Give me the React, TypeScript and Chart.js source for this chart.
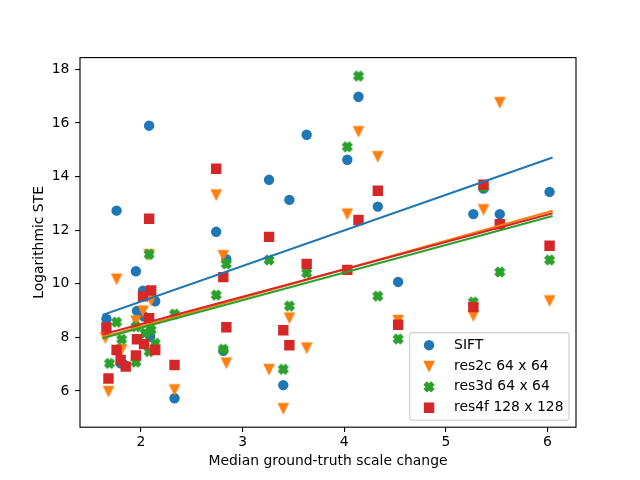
import React, { useEffect, useRef } from 'react';
import { Chart, registerables } from 'chart.js';

Chart.register(...registerables);

// ---------- data ----------
const SERIES_LABELS = ['SIFT', 'res2c 64 x 64', 'res3d 64 x 64', 'res4f 128 x 128'];
const SERIES_COLORS = ['#1f77b4', '#ff7f0e', '#2ca02c', '#d62728'];
const SERIES_MARKERS = ['circle', 'triangleDown', 'xFilled', 'square'];

const SIFT_X = [1.66, 1.76, 1.8, 1.84, 1.95, 1.96, 2.02, 2.03, 2.08, 2.09, 2.14, 2.33, 2.74, 2.81, 2.84, 3.26, 3.4, 3.46, 3.63, 4.03, 4.14, 4.33, 4.53, 5.27, 5.37, 5.53, 6.02];
const SIFT_Y = [8.69, 12.73, 7.03, 6.97, 10.47, 8.99, 9.74, 8.78, 15.9, 8.03, 9.35, 5.73, 11.94, 7.5, 10.92, 13.88, 6.22, 13.13, 15.56, 14.63, 16.98, 12.88, 10.07, 12.6, 13.55, 12.6, 13.43];

const RES2C_X = [1.65, 1.68, 1.76, 1.81, 1.95, 2.02, 2.08, 2.1, 2.33, 2.74, 2.81, 2.84, 3.26, 3.4, 3.46, 3.63, 4.03, 4.14, 4.33, 4.53, 5.27, 5.37, 5.53, 6.02];
const RES2C_Y = [8.0, 6.0, 10.19, 7.56, 8.63, 9.0, 11.1, 9.4, 6.06, 13.33, 11.07, 7.06, 6.82, 5.36, 8.74, 7.62, 12.62, 15.69, 14.76, 8.65, 8.82, 12.78, 16.78, 9.38];

const RES3D_X = [1.69, 1.76, 1.81, 1.95, 1.95, 2.04, 2.08, 2.08, 2.1, 2.14, 2.33, 2.74, 2.81, 2.84, 3.26, 3.4, 3.46, 3.63, 4.03, 4.14, 4.33, 4.53, 5.27, 5.37, 5.53, 6.02];
const RES3D_Y = [7.03, 8.57, 7.93, 7.08, 8.4, 8.16, 11.1, 7.47, 8.28, 7.78, 8.87, 9.58, 7.56, 10.74, 10.89, 6.81, 9.17, 10.4, 15.11, 17.75, 9.54, 7.94, 9.32, 13.6, 10.44, 10.89];

const RES4F_X = [1.66, 1.68, 1.76, 1.8, 1.85, 1.95, 1.96, 2.02, 2.03, 2.08, 2.08, 2.1, 2.14, 2.33, 2.74, 2.81, 2.84, 3.26, 3.4, 3.46, 3.63, 4.03, 4.14, 4.33, 4.53, 5.27, 5.37, 5.53, 6.02];
const RES4F_Y = [8.37, 6.47, 7.53, 7.16, 6.91, 7.33, 7.93, 9.53, 7.75, 12.43, 8.72, 9.75, 7.53, 6.97, 14.29, 10.25, 8.38, 11.75, 8.27, 7.71, 10.74, 10.52, 12.38, 13.47, 8.47, 9.13, 13.7, 12.22, 11.42];

// fitted trend lines: values at TREND_X ends
const TREND_X = [1.63, 6.04];
const SIFT_TREND = [8.85, 14.7];
const RES2C_TREND = [8.02, 12.72];
const RES3D_TREND = [7.98, 12.52];
const RES4F_TREND = [8.12, 12.62];

const X_TICKS = [2, 3, 4, 5, 6];
const Y_TICKS = [6, 8, 10, 12, 14, 16, 18];
const X_RANGE = [1.4, 6.28];
const Y_RANGE = [4.65, 18.44];

const X_TITLE = 'Median ground-truth scale change';
const Y_TITLE = 'Logarithmic STE';

// ---------- styling ----------
const FONT_SIZE = 13.9;
const MARKER_SIZE = 8.33;
const MARKER_EDGE = 2.08;
const LINE_WIDTH = 2.08;

function drawMarker(ctx: CanvasRenderingContext2D, kind: string, x: number, y: number, color: string) {
  const s = MARKER_SIZE;
  ctx.save();
  ctx.fillStyle = color;
  ctx.strokeStyle = color;
  ctx.lineWidth = MARKER_EDGE;
  ctx.lineJoin = 'miter';
  ctx.beginPath();
  if (kind === 'circle') {
    ctx.arc(x, y, s / 2, 0, Math.PI * 2);
  } else if (kind === 'square') {
    ctx.rect(x - s / 2, y - s / 2, s, s);
  } else if (kind === 'triangleDown') {
    ctx.moveTo(x - s / 2, y - s / 2);
    ctx.lineTo(x + s / 2, y - s / 2);
    ctx.lineTo(x, y + s / 2);
    ctx.closePath();
  } else {
    const p = [[-1, -2], [0, -1], [1, -2], [2, -1], [1, 0], [2, 1], [1, 2], [0, 1], [-1, 2], [-2, 1], [-1, 0], [-2, -1]];
    p.forEach(([a, b], i) => {
      const px = x + (a / 4) * s;
      const py = y + (b / 4) * s;
      if (i === 0) ctx.moveTo(px, py);
      else ctx.lineTo(px, py);
    });
    ctx.closePath();
  }
  ctx.fill();
  ctx.stroke();
  ctx.restore();
}

function markerCanvas(kind: string, color: string): HTMLCanvasElement {
  const c = document.createElement('canvas');
  c.width = 18;
  c.height = 18;
  const ctx = c.getContext('2d')!;
  drawMarker(ctx, kind, 9, 9, color);
  return c;
}

const framePlugin = {
  id: 'mplFrameLegend',
  afterDraw(chart: any) {
    const ctx: CanvasRenderingContext2D = chart.ctx;
    const { left, right, top, bottom } = chart.chartArea;
    ctx.save();
    ctx.strokeStyle = '#000';
    ctx.lineWidth = 1.11;
    ctx.strokeRect(left, top, right - left, bottom - top);
    ctx.restore();

    // legend (lower right, inside axes)
    const fs = FONT_SIZE;
    const borderPad = 0.4 * fs;
    const handleLen = 2 * fs;
    const handlePad = 0.8 * fs;
    const labelSpacing = 0.5 * fs;
    const axPad = 0.5 * fs;
    ctx.save();
    ctx.font = `${fs}px "DejaVu Sans"`;
    const labels = chart.data.datasets.filter((d: any) => d.legendLabel).map((d: any) => d);
    let maxW = 0;
    labels.forEach((d: any) => {
      maxW = Math.max(maxW, ctx.measureText(d.legendLabel).width);
    });
    const boxW = borderPad + handleLen + handlePad + maxW + borderPad;
    const boxH = 2 * borderPad + labels.length * fs + (labels.length - 1) * labelSpacing;
    const bx = right - axPad - boxW;
    const by = bottom - axPad - boxH;
    const r = 0.2 * fs;
    ctx.globalAlpha = 0.8;
    ctx.beginPath();
    ctx.moveTo(bx + r, by);
    ctx.lineTo(bx + boxW - r, by);
    ctx.arcTo(bx + boxW, by, bx + boxW, by + r, r);
    ctx.lineTo(bx + boxW, by + boxH - r);
    ctx.arcTo(bx + boxW, by + boxH, bx + boxW - r, by + boxH, r);
    ctx.lineTo(bx + r, by + boxH);
    ctx.arcTo(bx, by + boxH, bx, by + boxH - r, r);
    ctx.lineTo(bx, by + r);
    ctx.arcTo(bx, by, bx + r, by, r);
    ctx.closePath();
    ctx.fillStyle = '#ffffff';
    ctx.fill();
    ctx.strokeStyle = '#cccccc';
    ctx.lineWidth = 1.39;
    ctx.stroke();
    ctx.globalAlpha = 1;
    labels.forEach((d: any, i: number) => {
      const cy = by + borderPad + fs / 2 + i * (fs + labelSpacing);
      drawMarker(ctx, d.markerKind, bx + borderPad + handleLen / 2, cy, d.markerColor);
      ctx.fillStyle = '#000';
      ctx.textAlign = 'left';
      ctx.textBaseline = 'middle';
      ctx.fillText(d.legendLabel, bx + borderPad + handleLen + handlePad, cy);
    });
    ctx.restore();
  },
};

export default function App() {
  const ref = useRef<HTMLCanvasElement | null>(null);

  useEffect(() => {
    if (!ref.current) return;
    Chart.defaults.font.family = '"DejaVu Sans", sans-serif';
    Chart.defaults.font.size = FONT_SIZE;
    Chart.defaults.color = '#000';

    const xs = [SIFT_X, RES2C_X, RES3D_X, RES4F_X];
    const ys = [SIFT_Y, RES2C_Y, RES3D_Y, RES4F_Y];
    const trends = [SIFT_TREND, RES2C_TREND, RES3D_TREND, RES4F_TREND];

    const scatterSets = SERIES_LABELS.map((label, i) => {
      const kind = SERIES_MARKERS[i];
      const color = SERIES_COLORS[i];
      let pointStyle: any = 'circle';
      let radius = MARKER_SIZE / 2;
      if (kind === 'square') {
        pointStyle = 'rect';
        radius = MARKER_SIZE / Math.SQRT2;
      } else if (kind !== 'circle') {
        pointStyle = markerCanvas(kind, color);
      }
      return {
        label,
        legendLabel: label,
        markerKind: kind,
        markerColor: color,
        data: xs[i].map((x, j) => ({ x, y: ys[i][j] })),
        showLine: false,
        pointStyle,
        pointRadius: radius,
        pointHoverRadius: radius,
        backgroundColor: color,
        borderColor: color,
        pointBorderWidth: MARKER_EDGE,
        order: 7 - i,
      };
    });

    const trendSets = SERIES_LABELS.map((label, i) => ({
      label: label + ' fit',
      data: TREND_X.map((x, j) => ({ x, y: trends[i][j] })),
      showLine: true,
      pointRadius: 0,
      pointHoverRadius: 0,
      borderColor: SERIES_COLORS[i],
      backgroundColor: SERIES_COLORS[i],
      borderWidth: LINE_WIDTH,
      borderCapStyle: 'square',
      fill: false,
      order: 3 - i,
    }));

    const chart = new Chart(ref.current, {
      type: 'scatter',
      data: { datasets: [...scatterSets, ...trendSets] as any },
      options: {
        animation: false,
        responsive: false,
        devicePixelRatio: 1,
        events: [],
        layout: { padding: { top: 57.6, right: 64, left: 0, bottom: 0 } },
        plugins: { legend: { display: false }, tooltip: { enabled: false } },
        scales: {
          x: {
            type: 'linear',
            min: X_RANGE[0],
            max: X_RANGE[1],
            afterBuildTicks: (s: any) => {
              s.ticks = X_TICKS.map((v) => ({ value: v }));
            },
            afterFit: (s: any) => {
              s.height = 52.8;
            },
            ticks: {
              callback: (v: any) => String(v),
              color: '#000',
              padding: 2,
              maxRotation: 0,
              autoSkip: false,
              font: { size: FONT_SIZE },
            },
            grid: { drawOnChartArea: false, drawTicks: true, tickLength: 4.86, color: '#000', lineWidth: 1.11 },
            border: { display: false },
            title: {
              display: true,
              text: X_TITLE,
              color: '#000',
              font: { size: FONT_SIZE },
              padding: { top: 0, bottom: 9.9 },
            },
          },
          y: {
            type: 'linear',
            min: Y_RANGE[0],
            max: Y_RANGE[1],
            afterBuildTicks: (s: any) => {
              s.ticks = Y_TICKS.map((v) => ({ value: v }));
            },
            afterFit: (s: any) => {
              s.width = 80;
            },
            ticks: {
              callback: (v: any) => String(v),
              color: '#000',
              padding: 5.8,
              autoSkip: false,
              font: { size: FONT_SIZE },
            },
            grid: { drawOnChartArea: false, drawTicks: true, tickLength: 4.86, color: '#000', lineWidth: 1.11 },
            border: { display: false },
            title: {
              display: true,
              text: Y_TITLE,
              color: '#000',
              font: { size: FONT_SIZE },
              padding: { top: 31, bottom: 0 },
            },
          },
        },
      } as any,
      plugins: [framePlugin],
    });
    return () => chart.destroy();
  }, []);

  return (
    <div style={{ position: 'fixed', left: 0, top: 0, width: 640, height: 480, background: '#fff' }}>
      <canvas ref={ref} width={640} height={480} style={{ display: 'block', width: 640, height: 480 }} />
    </div>
  );
}
